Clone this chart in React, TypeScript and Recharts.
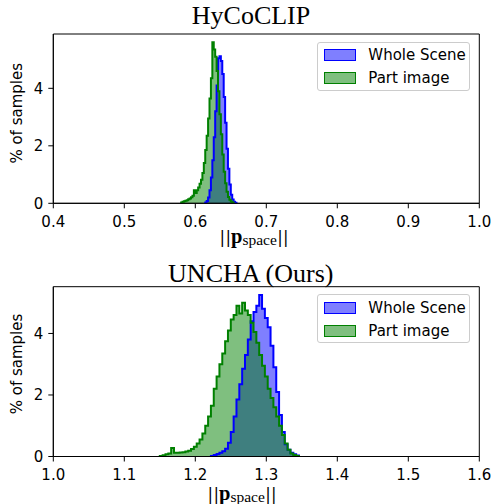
import React from 'react';
import { ComposedChart, Area, Line, XAxis, YAxis, ReferenceArea } from 'recharts';

const topTitle = 'HyCoCLIP';
const bottomTitle = 'UNCHA (Ours)';
const seriesNames = ['Whole Scene', 'Part image'];
const yLabel = '% of samples';
const topXTicks = [0.4, 0.5, 0.6, 0.7, 0.8, 0.9, 1.0];
const bottomXTicks = [1.0, 1.1, 1.2, 1.3, 1.4, 1.5, 1.6];
const yTicks = [0, 2, 4];

// Top panel (HyCoCLIP) histogram bin edges / heights (% of samples)
const topWholeEdges = [0.614, 0.616, 0.618, 0.620, 0.622, 0.624, 0.626, 0.628, 0.630, 0.632, 0.634, 0.636, 0.638, 0.640, 0.642, 0.644, 0.646, 0.648, 0.650, 0.652, 0.654, 0.656, 0.658];
const topWholeValues = [0.03, 0.08, 0.2, 0.45, 0.9, 1.5, 2.3, 3.2, 4.1, 5.05, 5.12, 4.95, 4.5, 3.7, 2.8, 1.9, 1.2, 0.65, 0.3, 0.13, 0.05, 0.02];
const topPartEdges = [0.580, 0.582, 0.584, 0.586, 0.588, 0.590, 0.592, 0.594, 0.596, 0.598, 0.600, 0.602, 0.604, 0.606, 0.608, 0.610, 0.612, 0.614, 0.616, 0.618, 0.620, 0.622, 0.624, 0.626, 0.628, 0.630, 0.632, 0.634, 0.636, 0.638, 0.640, 0.642, 0.644, 0.646, 0.648, 0.650, 0.652, 0.654];
const topPartValues = [0.03, 0.05, 0.07, 0.09, 0.11, 0.14, 0.17, 0.21, 0.26, 0.45, 0.36, 0.45, 0.55, 0.68, 0.82, 1.05, 1.4, 1.85, 2.35, 2.95, 3.65, 4.35, 5.6, 5.35, 5.1, 4.6, 3.9, 3.1, 2.4, 1.7, 1.1, 0.7, 0.4, 0.22, 0.12, 0.06, 0.03];

// Bottom panel (UNCHA) histogram bin edges / heights
const bottomWholeEdges = [1.222, 1.226, 1.230, 1.234, 1.238, 1.242, 1.246, 1.250, 1.254, 1.258, 1.262, 1.266, 1.270, 1.274, 1.278, 1.282, 1.286, 1.290, 1.294, 1.298, 1.302, 1.306, 1.310, 1.314, 1.318, 1.322, 1.326, 1.330, 1.334, 1.338, 1.342, 1.346];
const bottomWholeValues = [0.02, 0.05, 0.08, 0.12, 0.17, 0.25, 0.45, 0.8, 1.3, 1.85, 2.35, 2.85, 3.3, 3.8, 4.4, 4.7, 4.9, 5.25, 4.8, 4.5, 4.2, 3.6, 2.9, 2.1, 1.35, 0.8, 0.4, 0.22, 0.12, 0.07, 0.03];
const bottomPartEdges = [1.150, 1.154, 1.158, 1.162, 1.166, 1.170, 1.174, 1.178, 1.182, 1.186, 1.190, 1.194, 1.198, 1.202, 1.206, 1.210, 1.214, 1.218, 1.222, 1.226, 1.230, 1.234, 1.238, 1.242, 1.246, 1.250, 1.254, 1.258, 1.262, 1.266, 1.270, 1.274, 1.278, 1.282, 1.286, 1.290, 1.294, 1.298, 1.302, 1.306, 1.310, 1.314, 1.318, 1.322, 1.326, 1.330, 1.334, 1.338, 1.342, 1.346];
const bottomPartValues = [0.02, 0.04, 0.07, 0.1, 0.28, 0.12, 0.12, 0.13, 0.14, 0.16, 0.19, 0.24, 0.32, 0.42, 0.55, 0.75, 1.0, 1.3, 1.65, 2.2, 2.6, 3.0, 3.35, 3.75, 4.1, 4.45, 4.6, 4.9, 4.65, 5.0, 4.75, 4.6, 4.35, 4.05, 3.7, 3.3, 2.95, 2.6, 2.2, 1.9, 1.6, 1.3, 1.0, 0.7, 0.42, 0.22, 0.1, 0.05, 0.02];

const BLUE = '#0000ff';
const GREEN = '#008000';
const BLUE_FILL = 'rgba(0,0,255,0.5)';
const GREEN_FILL = 'rgba(0,128,0,0.5)';

function toSteps(edges: number[], values: number[]) {
  const pts = [{ x: edges[0], y: 0 }];
  edges.forEach((x, i) => pts.push({ x, y: i < values.length ? values[i] : 0 }));
  return pts;
}

const tickStyle = { fill: '#000', fontSize: 15, fontFamily: 'DejaVu Sans' };

function Panel(props: any) {
  const { whole, part, domain, xTicks, yMax, height, top, bottom } = props;
  return (
    <ComposedChart width={496} height={height} margin={{ top, right: 16.7, left: 0, bottom }}>
      <XAxis
        type="number"
        dataKey="x"
        domain={domain}
        ticks={xTicks}
        allowDataOverflow
        height={30}
        tickSize={5}
        tickMargin={8}
        tick={tickStyle}
        tickFormatter={(v: number) => v.toFixed(1)}
        axisLine={{ stroke: '#000' }}
        tickLine={{ stroke: '#000' }}
      />
      <YAxis
        type="number"
        dataKey="y"
        domain={[0, yMax]}
        ticks={yTicks}
        allowDataOverflow
        width={53.3}
        tickSize={5}
        tickMargin={5}
        tick={tickStyle}
        axisLine={{ stroke: '#000' }}
        tickLine={{ stroke: '#000' }}
      />
      <Area data={whole} dataKey="y" type="stepAfter" baseValue={0} fill={BLUE_FILL} fillOpacity={1} stroke="none" isAnimationActive={false} />
      <Area data={part} dataKey="y" type="stepAfter" baseValue={0} fill={GREEN_FILL} fillOpacity={1} stroke="none" isAnimationActive={false} />
      <Line data={whole} dataKey="y" type="stepAfter" stroke={BLUE} strokeWidth={2} dot={false} activeDot={false} isAnimationActive={false} />
      <Line data={part} dataKey="y" type="stepAfter" stroke={GREEN} strokeWidth={2} dot={false} activeDot={false} isAnimationActive={false} />
      <ReferenceArea x1={domain[0]} x2={domain[1]} y1={0} y2={yMax} fill="none" stroke="#000" strokeWidth={1} ifOverflow="visible" />
    </ComposedChart>
  );
}

function LegendBox({ top }: { top: number }) {
  const patch = (fill: string, stroke: string, t: number) => (
    <div style={{ position: 'absolute', left: 5.5, top: t, width: 30, height: 10, background: fill, border: `1.5px solid ${stroke}` }} />
  );
  const label = (text: string, t: number) => (
    <div style={{ position: 'absolute', left: 50, top: t, fontFamily: 'DejaVu Sans', fontSize: 15, lineHeight: '18px', color: '#000', whiteSpace: 'nowrap' }}>{text}</div>
  );
  return (
    <div style={{ position: 'absolute', left: 317.3, top, width: 153, height: 49, border: '1px solid #cccccc', borderRadius: 3, background: 'rgba(255,255,255,0.8)', boxSizing: 'border-box' }}>
      {patch(BLUE_FILL, BLUE, 6.5)}
      {label(seriesNames[0], 3.5)}
      {patch(GREEN_FILL, GREEN, 29.5)}
      {label(seriesNames[1], 26.5)}
    </div>
  );
}

function NormLabel({ x, y }: { x: number; y: number }) {
  const bar = 'DejaVu Serif';
  return (
    <text x={x} y={y} fontFamily="Liberation Serif" fontSize={16.5} fill="#000">
      <tspan fontFamily={bar}>|</tspan>
      <tspan fontFamily={bar} dx={0.4}>|</tspan>
      <tspan fontSize={20.5} fontWeight="bold">p</tspan>
      <tspan fontSize={15.5} dy={2}>space</tspan>
      <tspan fontFamily={bar} dx={0.3} dy={-2}>|</tspan>
      <tspan fontFamily={bar} dx={0.4}>|</tspan>
    </text>
  );
}

export default function App() {
  const topWhole = toSteps(topWholeEdges, topWholeValues);
  const topPart = toSteps(topPartEdges, topPartValues);
  const bottomWhole = toSteps(bottomWholeEdges, bottomWholeValues);
  const bottomPart = toSteps(bottomPartEdges, bottomPartValues);
  return (
    <div style={{ position: 'absolute', left: 0, top: 0, width: 496, height: 504, background: '#fff', overflow: 'hidden' }}>
      <div style={{ position: 'absolute', left: 0, top: 0 }}>
        <Panel whole={topWhole} part={topPart} domain={[0.4, 1.0]} xTicks={topXTicks} yMax={5.89} height={250} top={34} bottom={16.7} />
      </div>
      <div style={{ position: 'absolute', left: 0, top: 250 }}>
        <Panel whole={bottomWhole} part={bottomPart} domain={[1.0, 1.6]} xTicks={bottomXTicks} yMax={5.52} height={254} top={36.7} bottom={17.5} />
      </div>
      <svg width={496} height={504} style={{ position: 'absolute', left: 0, top: 0, pointerEvents: 'none' }}>
        <text x={251} y={24} textAnchor="middle" fontFamily="Liberation Serif" fontSize={26} fill="#000">{topTitle}</text>
        <text x={250.8} y={281.7} textAnchor="middle" fontFamily="Liberation Serif" fontSize={26} fill="#000">{bottomTitle}</text>
        <text transform="translate(21.5,113.3) rotate(-90)" textAnchor="middle" fontFamily="DejaVu Sans" fontSize={15} fill="#000">{yLabel}</text>
        <text transform="translate(21.5,364) rotate(-90)" textAnchor="middle" fontFamily="DejaVu Sans" fontSize={15} fill="#000">{yLabel}</text>
        <NormLabel x={219.5} y={243} />
        <NormLabel x={207.5} y={500} />
      </svg>
      <LegendBox top={41.7} />
      <LegendBox top={294} />
    </div>
  );
}
